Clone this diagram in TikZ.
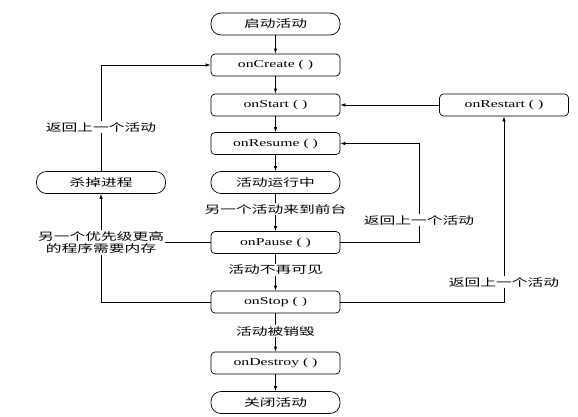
\documentclass[tikz,border=0pt]{standalone}
\usepackage{fontspec}
\setmainfont{Liberation Serif}[FakeStretch=1.5]
\newfontfamily\cjk{Noto Sans CJK SC}[FakeStretch=1.5]
\usetikzlibrary{arrows.meta}

\tikzset{
  box/.style={draw, rounded corners=4pt, minimum width=129pt, minimum height=22pt, inner sep=0pt},
  pill/.style={box, rounded corners=10pt, font=\cjk\fontsize{10.5}{12}\selectfont},
  note/.style={fill=white, inner sep=1pt, font=\cjk\fontsize{10.5}{12}\selectfont}
}

\begin{document}
\begin{tikzpicture}[x=1pt, y=-1pt, line width=0.7pt, >={Latex[length=5pt,width=3.5pt]},
    font=\fontsize{10.5}{12}\selectfont]
  \useasboundingbox (0,0) rectangle (578,416);

  % main column
  \node[pill] (begin) at (275.5,24) {启动活动};
  \node[box] (create) at (275.5,65) {onCreate ( )};
  \node[box] (start) at (275.5,105) {onStart ( )};
  \node[box] (resume) at (275.5,143.5) {onResume ( )};
  \node[pill] (running) at (275.5,182.5) {活动运行中};
  \node[box] (pause) at (275.5,242.5) {onPause ( )};
  \node[box] (stop) at (275.5,302) {onStop ( )};
  \node[box] (destroy) at (275.5,363) {onDestroy ( )};
  \node[pill] (finish) at (275.5,402.5) {关闭活动};

  % side boxes
  \node[box] (restart) at (504,105) {onRestart ( )};
  \node[pill] (kill) at (101,182.5) {杀掉进程};

  % labels on the lines
  \node[note] (toFront) at (275.5,209) {另一个活动来到前台};
  \node[note] (hidden) at (275.5,270) {活动不再可见};
  \node[note] (killed) at (275.5,331) {活动被销毁};
  \node[note, align=center] (lowMem) at (101,242.5) {另一个优先级更高\\的程序需要内存};
  \node[note] (backLeft) at (101,127) {返回上一个活动};
  \node[note] (backMid) at (419,220) {返回上一个活动};
  \node[note] (backRight) at (504,282) {返回上一个活动};

  \draw[->] (begin) -- (create);
  \draw[->] (create) -- (start);
  \draw[->] (start) -- (resume);
  \draw[->] (resume) -- (running);
  \draw (running) -- (toFront);
  \draw[->] (toFront) -- (pause);
  \draw (pause) -- (hidden);
  \draw[->] (hidden) -- (stop);
  \draw (stop) -- (killed);
  \draw[->] (killed) -- (destroy);
  \draw[->] (destroy) -- (finish);

  % left loop
  \draw (pause) -- (lowMem);
  \draw (stop.west) -| (lowMem.south);
  \draw[->] (lowMem) -- (kill);
  \draw (kill) -- (backLeft);
  \draw[->] (backLeft) |- (create.west);

  % right loops
  \draw (pause.east) -| (backMid.south);
  \draw[->] (backMid) |- (resume.east);
  \draw (stop.east) -| (backRight.south);
  \draw[->] (backRight) -- (restart);
  \draw[->] (restart) -- (start);
\end{tikzpicture}
\end{document}
